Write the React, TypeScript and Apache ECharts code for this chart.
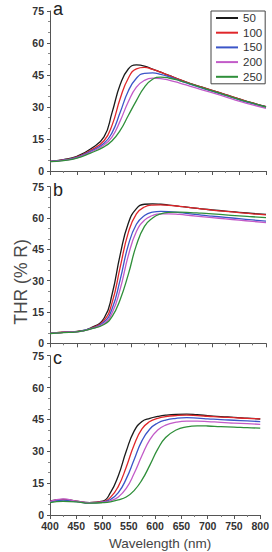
import React, { useEffect, useRef } from "react";
import * as echarts from "echarts";

const WAVELENGTHS = [400, 425, 450, 475, 500, 515, 530, 545, 560, 575, 590, 605, 620, 640, 660, 680, 700, 725, 750, 775, 800];
const SERIES_NAMES = ["50", "100", "150", "200", "250"];
const COLORS = ["#1a1a1a", "#e0262a", "#3b55c8", "#c25bc8", "#2f8f3a"];
const PANEL_LABELS = ["a", "b", "c"];
const Y_TICKS = [0, 15, 30, 45, 60, 75];
const X_TICKS = [400, 450, 500, 550, 600, 650, 700, 750, 800];

// Panel a
const A_50 = [4.5, 5.3, 6.9, 10.3, 16, 27.5, 40.5, 47.8, 49.7, 49.2, 47.8, 46.3, 44.8, 42.8, 41, 39.4, 37.8, 35.8, 33.8, 31.9, 30.2];
const A_100 = [4.5, 5.2, 6.6, 9.7, 14.2, 21.5, 34, 43.5, 47.9, 48.6, 47.6, 46.3, 44.8, 42.8, 41, 39.4, 37.8, 35.8, 33.8, 31.9, 30.2];
const A_150 = [4.5, 5.1, 6.4, 9.2, 13, 18, 27.5, 37.5, 43.5, 45.8, 46, 45.3, 44.2, 42.4, 40.6, 39, 37.4, 35.4, 33.4, 31.6, 30];
const A_200 = [4.4, 5, 6.2, 8.8, 12.2, 16, 23.5, 32.5, 39.3, 42.5, 43.5, 43.3, 42.6, 41.2, 39.7, 38.2, 36.7, 34.8, 32.8, 31, 29.4];
const A_250 = [4.4, 4.9, 6, 8.4, 11.3, 14.2, 19, 26, 33, 39.3, 43, 44, 43.6, 42.4, 40.8, 39.2, 37.6, 35.6, 33.6, 31.8, 30];

// Panel b
const B_50 = [4.8, 5.3, 5.7, 7.3, 12, 23.5, 42.5, 57.5, 64.5, 66.6, 66.8, 66.6, 66.2, 65.6, 65, 64.4, 63.9, 63.3, 62.7, 62.2, 61.7];
const B_100 = [4.8, 5.3, 5.6, 7.1, 11, 19.5, 36.5, 53, 62, 65.3, 66.2, 66.3, 66.1, 65.6, 65, 64.4, 63.8, 63.2, 62.6, 62, 61.5];
const B_150 = [4.8, 5.2, 5.6, 7, 10.2, 16.5, 30.5, 47, 57, 61.2, 62.8, 63.2, 63.1, 62.6, 62, 61.4, 60.9, 60.3, 59.7, 59.1, 58.5];
const B_200 = [4.7, 5.2, 5.5, 6.9, 9.5, 14.5, 26, 42, 53.5, 59, 61.2, 62, 62, 61.7, 61.2, 60.7, 60.2, 59.6, 59, 58.4, 57.8];
const B_250 = [4.7, 5.1, 5.5, 6.8, 9, 12.8, 21, 33, 47, 56, 60, 62, 62.7, 62.8, 62.6, 62.3, 62, 61.5, 61, 60.6, 60.2];

// Panel c
const C_50 = [6.6, 7.4, 6.5, 5.8, 6.5, 10.5, 18.5, 30, 39.5, 44, 45.5, 46.4, 47, 47.4, 47.5, 47.2, 46.8, 46.3, 46, 45.6, 45.2];
const C_100 = [6.3, 7.2, 6.4, 5.8, 6.3, 8.3, 13.5, 22.5, 33, 40.5, 44, 45.5, 46.3, 46.8, 47, 46.8, 46.5, 46.1, 45.8, 45.5, 45.3];
const C_150 = [6.2, 7, 6.3, 5.7, 6.1, 7.3, 10.5, 17, 26, 35, 40.5, 43.3, 44.7, 45.5, 45.8, 45.6, 45.3, 44.9, 44.6, 44.3, 44];
const C_200 = [6.4, 7.6, 6.5, 5.8, 6, 6.7, 8.5, 12.5, 19.5, 28, 35.5, 40, 42.3, 43.7, 44.2, 44.2, 44, 43.6, 43.3, 43, 42.7];
const C_250 = [5.8, 6.4, 6.2, 5.6, 5.8, 6.2, 7.1, 8.5, 11.5, 16.5, 23.5, 31, 36.5, 40, 41.5, 42, 41.9, 41.6, 41.4, 41.1, 40.9];

const PANELS = [
  [A_50, A_100, A_150, A_200, A_250],
  [B_50, B_100, B_150, B_200, B_250],
  [C_50, C_100, C_150, C_200, C_250],
];

const FONT = "Liberation Sans, Arial, sans-serif";

export default function App() {
  const ref = useRef<HTMLDivElement>(null);

  useEffect(() => {
    if (!ref.current) return;
    const chart = echarts.init(ref.current, null, { renderer: "svg" });

    const gridLayout = [
      { top: 11, height: 160 },
      { top: 186.7, height: 156.6 },
      { top: 355.7, height: 159.3 },
    ];

    const grids = gridLayout.map((g) => ({ left: 50, width: 216, top: g.top, height: g.height }));

    const xAxes = gridLayout.map((_, i) => ({
      type: "value",
      gridIndex: i,
      min: X_TICKS[0],
      max: X_TICKS[X_TICKS.length - 1],
      interval: 50,
      axisLine: { show: true, lineStyle: { color: "#555", width: 1 } },
      axisTick: { show: true, length: 4, lineStyle: { color: "#555" } },
      minorTick: { show: true, splitNumber: 2, length: 2, lineStyle: { color: "#777" } },
      splitLine: { show: false },
      axisLabel: {
        show: i === 2,
        color: "#333",
        fontSize: 10.5,
        fontWeight: "bold",
        fontFamily: FONT,
        margin: 5,
      },
      name: i === 2 ? "Wavelength (nm)" : "",
      nameLocation: "middle",
      nameGap: 21,
      nameTextStyle: { color: "#444", fontSize: 13.5, fontFamily: FONT, padding: [0, 0, 0, 10] },
    }));

    const yAxes = gridLayout.map((_, i) => ({
      type: "value",
      gridIndex: i,
      min: Y_TICKS[0],
      max: Y_TICKS[Y_TICKS.length - 1],
      interval: 15,
      axisLine: { show: true, lineStyle: { color: "#555", width: 1 } },
      axisTick: { show: true, length: 3, lineStyle: { color: "#555" } },
      minorTick: { show: true, splitNumber: 3, length: 2, lineStyle: { color: "#888" } },
      splitLine: { show: false },
      axisLabel: {
        color: "#333",
        fontSize: 10.5,
        fontWeight: "bold",
        fontFamily: FONT,
        margin: 6,
      },
    }));

    const series: any[] = [];
    PANELS.forEach((panel, pi) => {
      panel.forEach((vals, si) => {
        series.push({
          type: "line",
          name: SERIES_NAMES[si],
          xAxisIndex: pi,
          yAxisIndex: pi,
          data: WAVELENGTHS.map((w, k) => [w, vals[k]]),
          smooth: 0.5,
          showSymbol: false,
          symbol: "none",
          lineStyle: { color: COLORS[si], width: 1.3 },
          itemStyle: { color: COLORS[si] },
        });
      });
    });

    const labelY = [10, 191, 358.5];
    const graphic: any[] = PANEL_LABELS.map((t, i) => ({
      type: "text",
      left: 53,
      top: labelY[i] - 10,
      style: { text: t, fontSize: 18, fontFamily: FONT, fill: "#222" },
    }));
    graphic.push({
      type: "text",
      x: 21,
      y: 282,
      rotation: Math.PI / 2,
      style: {
        text: "THR (% R)",
        fontSize: 17.5,
        fontFamily: FONT,
        fill: "#4a4a4a",
        align: "center",
        verticalAlign: "middle",
      },
    });

    chart.setOption({
      animation: false,
      backgroundColor: "#fff",
      grid: grids,
      xAxis: xAxes,
      yAxis: yAxes,
      series,
      graphic,
      legend: {
        data: SERIES_NAMES,
        orient: "vertical",
        left: 211,
        top: 11,
        padding: [0, 3, 0, 5],
        itemGap: 0.7,
        itemWidth: 22,
        itemHeight: 2,
        icon: "rect",
        borderColor: "#444",
        borderWidth: 1,
        backgroundColor: "#fff",
        textStyle: { fontSize: 11.5, fontFamily: FONT, color: "#333", lineHeight: 14 },
      },
    });

    return () => chart.dispose();
  }, []);

  return (
    <div
      ref={ref}
      style={{ position: "fixed", left: 0, top: 0, width: 272, height: 552, background: "#fff" }}
    />
  );
}
